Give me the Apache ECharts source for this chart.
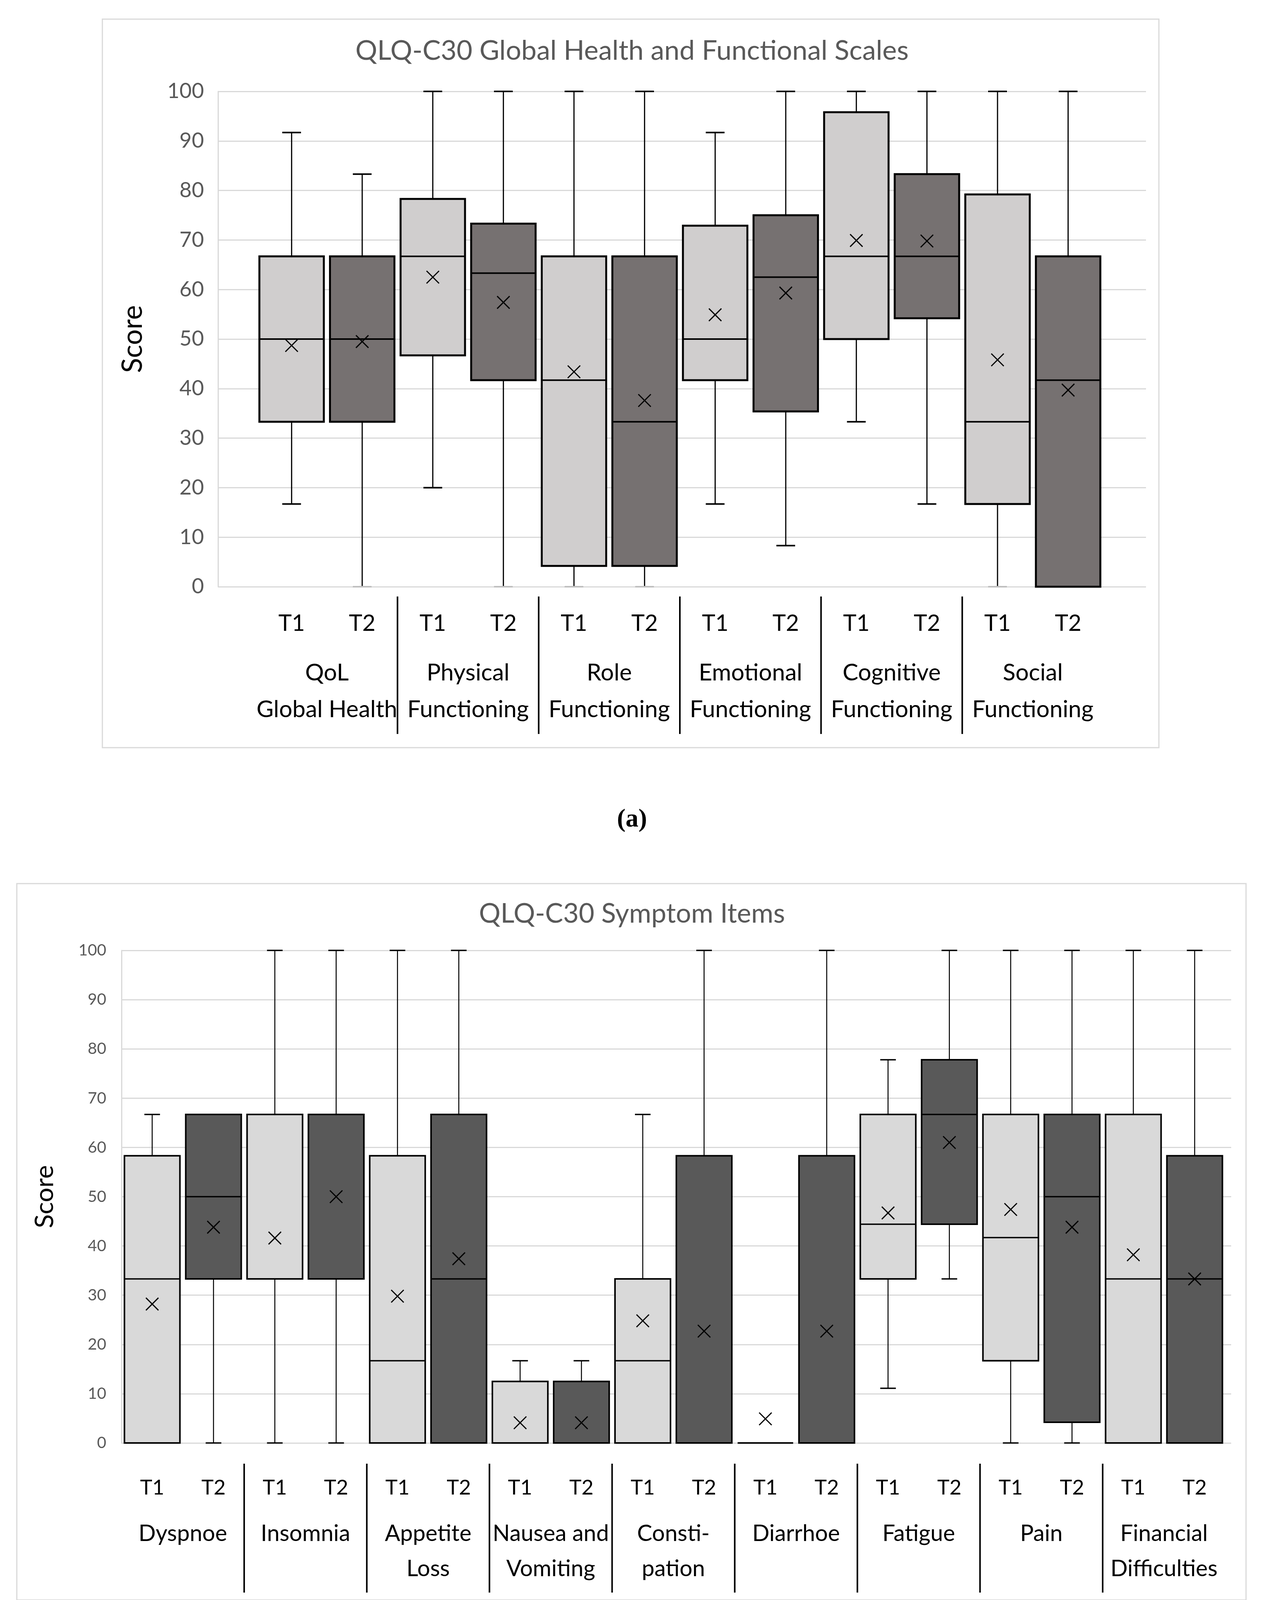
<!DOCTYPE html>
<html>
<head>
<meta charset="utf-8">
<script src="https://cdn.jsdelivr.net/npm/echarts@6/dist/echarts.min.js"></script>
<style>html,body{margin:0;padding:0;background:#fff}#c{width:3235px;height:4233px}</style>
</head>
<body>
<div id="c"></div>
<script>
// ---------- data ----------
const yMinTick = 0, yMaxTick = 100, yStep = 10;

const topTimes  = ['T1','T2','T1','T2','T1','T2','T1','T2','T1','T2','T1','T2'];
const topGroups = ['QoL\nGlobal Health','Physical\nFunctioning','Role\nFunctioning','Emotional\nFunctioning','Cognitive\nFunctioning','Social\nFunctioning'];
const topMin    = [16.7, 0,    20,   0,    0,    0,    16.7, 8.3,  33.3, 16.7, 0,    0];
const topQ1     = [33.3, 33.3, 46.7, 41.7, 4.2,  4.2,  41.7, 35.4, 50,   54.2, 16.7, 0];
const topMedian = [50,   50,   66.7, 63.3, 41.7, 33.3, 50,   62.5, 66.7, 66.7, 33.3, 41.7];
const topQ3     = [66.7, 66.7, 78.3, 73.3, 66.7, 66.7, 72.9, 75,   95.8, 83.3, 79.2, 66.7];
const topMax    = [91.7, 83.3, 100,  100,  100,  100,  91.7, 100,  100,  100,  100,  100];
const topMean   = [48.7, 49.5, 62.5, 57.4, 43.4, 37.6, 54.9, 59.3, 69.9, 69.8, 45.8, 39.7];
const topSeparators = [2, 4, 6, 8, 10];

const botTimes  = ['T1','T2','T1','T2','T1','T2','T1','T2','T1','T2','T1','T2','T1','T2','T1','T2','T1','T2'];
const botGroups = ['Dyspnoe','Insomnia','Appetite\nLoss','Nausea and\nVomiting','Consti-\npation','Diarrhoe','Fatigue','Pain','Financial\nDifficulties'];
const botMin    = [0,    0,    0,    0,    0,    0,    0,    0,    0,    0,    0,  0,    11.1, 33.3, 0,    0,    0,    0];
const botQ1     = [0,    33.3, 33.3, 33.3, 0,    0,    0,    0,    0,    0,    0,  0,    33.3, 44.4, 16.7, 4.2,  0,    0];
const botMedian = [33.3, 50,   33.3, 33.3, 16.7, 33.3, 0,    0,    16.7, 0,    0,  0,    44.4, 66.7, 41.7, 50,   33.3, 33.3];
const botQ3     = [58.3, 66.7, 66.7, 66.7, 58.3, 66.7, 12.5, 12.5, 33.3, 58.3, 0,  58.3, 66.7, 77.8, 66.7, 66.7, 66.7, 58.3];
const botMax    = [66.7, 66.7, 100,  100,  100,  100,  16.7, 16.7, 66.7, 100,  0,  100,  77.8, 100,  100,  100,  100,  100];
const botMean   = [28.2, 43.8, 41.6, 50.0, 29.8, 37.4, 4.1,  4.1,  24.8, 22.7, 4.9, 22.7, 46.7, 61.0, 47.4, 43.8, 38.2, 33.3];
const botSeparators = [2, 4, 6, 8, 10, 12, 14, 16];

// ---------- helpers ----------
const FONT = 'Lato';
function rows(mn, q1, md, q3, mx, mean) {
  return mn.map((v, i) => [i, mn[i], q1[i], md[i], q3[i], mx[i], mean[i]]);
}
function boxRenderer(cfg) {
  return function (params, api) {
    const i = api.value(0);
    const x = api.coord([i, 0])[0];
    const bw = api.size([1, 0])[0] * cfg.boxRatio;
    const Y = v => api.coord([i, v])[1];
    const yMin = Y(api.value(1)), yQ1 = Y(api.value(2)), yMed = Y(api.value(3)),
          yQ3 = Y(api.value(4)), yMax = Y(api.value(5)), yMean = Y(api.value(6));
    const line = (x1, y1, x2, y2, w, c) => ({ type: 'line', shape: { x1, y1, x2, y2 }, style: { stroke: c || '#000', lineWidth: w } });
    const kids = [];
    if (yMax < yQ3 - 0.5) {
      kids.push(line(x, yQ3, x, yMax, cfg.whiskerW));
      kids.push(line(x - cfg.capW / 2, yMax, x + cfg.capW / 2, yMax, cfg.capLW));
    }
    if (yMin > yQ1 + 0.5) {
      kids.push(line(x, yQ1, x, yMin, cfg.whiskerW));
      kids.push(line(x - cfg.capW / 2, yMin, x + cfg.capW / 2, yMin, cfg.capLW, api.value(1) === 0 ? cfg.zeroCapColor : '#000'));
    }
    kids.push({ type: 'rect', shape: { x: x - bw / 2, y: yQ3, width: bw, height: yQ1 - yQ3 },
      style: { fill: cfg.times[i] === 'T1' ? cfg.fills[0] : cfg.fills[1], stroke: '#000', lineWidth: cfg.boxLW } });
    kids.push(line(x - bw / 2, yMed, x + bw / 2, yMed, cfg.medLW));
    const h = cfg.xSize / 2;
    kids.push(line(x - h, yMean - h, x + h, yMean + h, cfg.meanLW));
    kids.push(line(x - h, yMean + h, x + h, yMean - h, cfg.meanLW));
    return { type: 'group', children: kids };
  };
}
function sepRenderer(off0, off1, w) {
  return function (params, api) {
    const i = api.value(0);
    const p = api.coord([i, 0]);
    const x = p[0] - api.size([1, 0])[0] / 2;
    return { type: 'line', shape: { x1: x, y1: p[1] + off0, x2: x, y2: p[1] + off1 }, style: { stroke: '#000', lineWidth: w } };
  };
}
function valueY(gridIndex, show, cfg) {
  const base = { gridIndex, type: 'value', min: yMinTick, max: yMaxTick, interval: yStep };
  if (!show) return Object.assign(base, { show: false, splitLine: { show: false } });
  return Object.assign(base, {
    axisLine: { show: true, lineStyle: { color: '#d9d9d9', width: 3 } },
    axisTick: { show: false },
    splitLine: { show: true, lineStyle: { color: '#d9d9d9', width: 3 } },
    axisLabel: { color: '#595959', fontFamily: FONT, fontSize: cfg.labelSize, margin: cfg.labelMargin },
    name: 'Score', nameLocation: 'middle', nameRotate: 90, nameGap: cfg.nameGap,
    nameTextStyle: { color: '#000', fontFamily: FONT, fontSize: cfg.nameSize }
  });
}
function catX(gridIndex, data, size, lh, margin) {
  return {
    gridIndex, type: 'category', data, boundaryGap: true,
    axisLine: { show: false }, axisTick: { show: false }, splitLine: { show: false },
    axisLabel: { interval: 0, color: '#000', fontFamily: FONT, fontSize: size, lineHeight: lh, margin }
  };
}

// ---------- layout ----------
const topPlot = { top: 234, height: 1268 };
const botPlot = { top: 2433, height: 1261 };
const capStyle = { p: { fontFamily: 'Liberation Serif', fontSize: 66, color: '#000', lineHeight: 66 },
                   b: { fontFamily: 'Liberation Serif', fontSize: 66, fontWeight: 'bold', color: '#000', lineHeight: 66 } };

const option = {
  backgroundColor: '#fff',
  animation: false,
  title: [
    { text: 'QLQ-C30 Global Health and Functional Scales', left: 'center', top: 95, padding: 0,
      textStyle: { fontFamily: FONT, fontWeight: 'normal', fontSize: 70, color: '#595959', lineHeight: 70 } },
    { text: 'QLQ-C30 Symptom Items', left: 'center', top: 2305, padding: 0,
      textStyle: { fontFamily: FONT, fontWeight: 'normal', fontSize: 69, color: '#595959', lineHeight: 70 } },
    { text: '{p|(}{b|a}{p|)}', left: 'center', top: 2066, padding: 0, textStyle: { rich: capStyle } },
    { text: '{p|(}{b|b}{p|)}', left: 'center', top: 4135, padding: 0, textStyle: { rich: capStyle } }
  ],
  graphic: [
    { type: 'rect', shape: { x: 262, y: 49, width: 2704, height: 1865 }, style: { fill: 'none', stroke: '#d9d9d9', lineWidth: 3 }, z: -1 },
    { type: 'rect', shape: { x: 43, y: 2262, width: 3146, height: 1834 }, style: { fill: 'none', stroke: '#d9d9d9', lineWidth: 3 }, z: -1 }
  ],
  grid: [
    { left: 558, width: 2375, top: topPlot.top, height: topPlot.height, outerBoundsMode: 'none' },
    { left: 656, width: 2168, top: topPlot.top, height: topPlot.height, outerBoundsMode: 'none' },
    { left: 656, width: 2168, top: topPlot.top, height: topPlot.height, outerBoundsMode: 'none' },
    { left: 311, width: 2840, top: botPlot.top, height: botPlot.height, outerBoundsMode: 'none' },
    { left: 311, width: 2825, top: botPlot.top, height: botPlot.height, outerBoundsMode: 'none' },
    { left: 311, width: 2825, top: botPlot.top, height: botPlot.height, outerBoundsMode: 'none' }
  ],
  xAxis: [
    { gridIndex: 0, type: 'value', show: false, splitLine: { show: false } },
    catX(1, topTimes, 58, 58, 65),
    catX(2, topGroups, 60, 94, 174),
    { gridIndex: 3, type: 'value', show: false, splitLine: { show: false } },
    catX(4, botTimes, 53, 53, 88),
    catX(5, botGroups, 58, 90, 187)
  ],
  yAxis: [
    valueY(0, true, { labelSize: 54, labelMargin: 36, nameGap: 182, nameSize: 71 }),
    valueY(1, false),
    valueY(2, false),
    valueY(3, true, { labelSize: 41, labelMargin: 39, nameGap: 163, nameSize: 66 }),
    valueY(4, false),
    valueY(5, false)
  ],
  series: [
    { type: 'custom', xAxisIndex: 1, yAxisIndex: 1, clip: false,
      encode: { x: 0, y: [1, 2, 3, 4, 5, 6] },
      renderItem: boxRenderer({ times: topTimes, fills: ['#d0cece', '#767171'], boxRatio: 0.913, zeroCapColor: '#bfbfbf',
        capW: 48, capLW: 4, whiskerW: 3, boxLW: 5, medLW: 4, xSize: 32, meanLW: 3 }),
      data: rows(topMin, topQ1, topMedian, topQ3, topMax, topMean) },
    { type: 'custom', xAxisIndex: 1, yAxisIndex: 1, clip: false, encode: { x: 0, y: 1 },
      renderItem: sepRenderer(25, 377, 4),
      data: topSeparators.map(i => [i, 0]) },
    { type: 'custom', xAxisIndex: 4, yAxisIndex: 4, clip: false,
      encode: { x: 0, y: [1, 2, 3, 4, 5, 6] },
      renderItem: boxRenderer({ times: botTimes, fills: ['#d9d9d9', '#595959'], boxRatio: 0.905, zeroCapColor: '#000',
        capW: 40, capLW: 3.5, whiskerW: 2.5, boxLW: 4, medLW: 3.5, xSize: 32, meanLW: 3 }),
      data: rows(botMin, botQ1, botMedian, botQ3, botMax, botMean) },
    { type: 'custom', xAxisIndex: 4, yAxisIndex: 4, clip: false, encode: { x: 0, y: 1 },
      renderItem: sepRenderer(53, 383, 4),
      data: botSeparators.map(i => [i, 0]) }
  ]
};

const chart = echarts.init(document.getElementById('c'), null, { renderer: 'canvas' });
chart.setOption(option);
</script>
</body>
</html>
